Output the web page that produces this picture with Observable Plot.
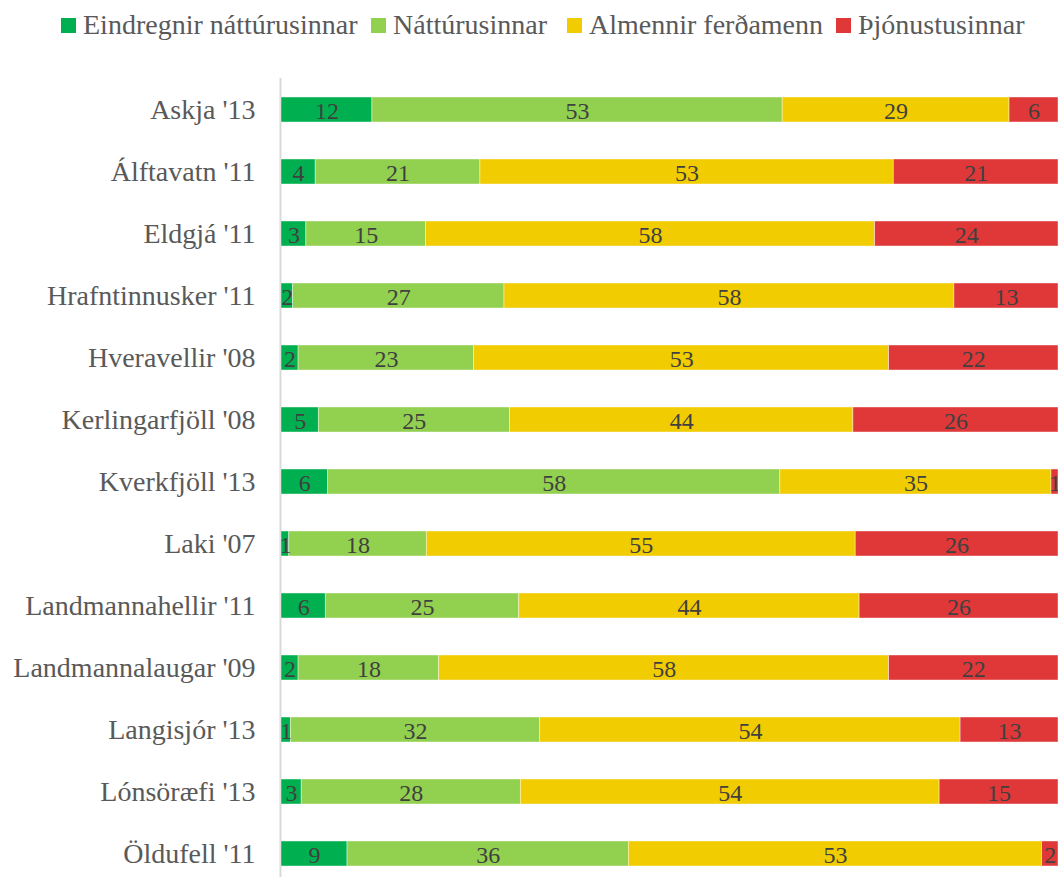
<!DOCTYPE html>
<html>
<head>
<meta charset="utf-8">
<script src="https://cdn.jsdelivr.net/npm/d3@7"></script>
<script src="https://cdn.jsdelivr.net/npm/@observablehq/plot@0.6"></script>
<style>
  html, body { margin: 0; padding: 0; background: #fff; overflow: hidden; }
  #wrap { position: relative; width: 1058px; height: 877px; }
  #legend { position: absolute; left: 0; top: 0; width: 1058px; height: 50px;
    font-family: "Liberation Serif", "DejaVu Serif", serif; font-size: 28px; color: #595959; }
  .item { position: absolute; top: 0; height: 50px; display: flex; align-items: center; white-space: nowrap; }
  .sw { width: 15px; height: 15px; margin-right: 7px; }
  #chart { position: absolute; left: 0; top: 0; }
</style>
</head>
<body>
<div id="wrap">
  <div id="chart"></div>
  <div id="legend"></div>
</div>
<script>
const sites = ["Askja '13", "Álftavatn '11", "Eldgjá '11", "Hrafntinnusker '11", "Hveravellir '08", "Kerlingarfjöll '08", "Kverkfjöll '13", "Laki '07", "Landmannahellir '11", "Landmannalaugar '09", "Langisjór '13", "Lónsöræfi '13", "Öldufell '11"];
const seriesNames = ["Eindregnir náttúrusinnar", "Náttúrusinnar", "Almennir ferðamenn", "Þjónustusinnar"];
const seriesColors = ["#00b050", "#92d050", "#f0cc00", "#e03838"];

const eindregnir = [11.7, 4.4, 3.2, 1.5, 2.2, 4.8, 6.0, 1.0, 5.7, 2.2, 1.2, 2.6, 8.5];
const natturusinnar = [52.8, 21.2, 15.4, 27.2, 22.6, 24.6, 58.2, 17.7, 24.9, 18.1, 32.1, 28.2, 36.2];
const almennir = [29.2, 53.2, 57.8, 57.9, 53.4, 44.2, 34.9, 55.2, 43.8, 57.9, 54.1, 53.9, 53.2];
const thjonusta = [6.3, 21.2, 23.6, 13.4, 21.8, 26.4, 0.9, 26.1, 25.6, 21.8, 12.6, 15.3, 2.1];

const seriesValues = [eindregnir, natturusinnar, almennir, thjonusta];
const data = [];
seriesNames.forEach((s, k) => {
  sites.forEach((site, i) => data.push({site, series: s, value: seriesValues[k][i]}));
});

const font = '"Liberation Serif", "DejaVu Serif", serif';

const chart = Plot.plot({
  width: 1058,
  height: 877,
  marginLeft: 281,
  marginRight: 0,
  marginTop: 78,
  marginBottom: 0,
  style: {fontFamily: font, background: "transparent", overflow: "visible"},
  x: {domain: [0, 100], axis: null},
  y: {domain: sites, range: [78, 885], paddingInner: 0.6, paddingOuter: 0.3, label: null, tickSize: 0, tickPadding: 26},
  color: {domain: seriesNames, range: seriesColors},
  marks: [
    Plot.ruleX([0], {stroke: "#d9d9d9", strokeWidth: 2, dx: -1}),
    Plot.barX(data, Plot.stackX({x: "value", y: "site", fill: "series", stroke: "#ffffff", strokeWidth: 0.7, strokeOpacity: 0.6})),
    Plot.text(data, Plot.stackX({x: "value", y: "site", z: "series", text: d => String(Math.round(d.value)), fill: "#404040", fontSize: 24, fontFamily: font, dy: 1})),
    Plot.axisY({tickSize: 0, tickPadding: 26, fontSize: 28, fontFamily: font, color: "#595959", label: null})
  ]
});
document.getElementById("chart").appendChild(chart);

const legendX = [61, 371, 567, 836];
const legend = document.getElementById("legend");
seriesNames.forEach((s, k) => {
  const it = document.createElement("div");
  it.className = "item";
  it.style.left = legendX[k] + "px";
  const sw = document.createElement("div");
  sw.className = "sw";
  sw.style.background = seriesColors[k];
  const t = document.createElement("span");
  t.textContent = s;
  it.appendChild(sw); it.appendChild(t);
  legend.appendChild(it);
});
</script>
</body>
</html>
